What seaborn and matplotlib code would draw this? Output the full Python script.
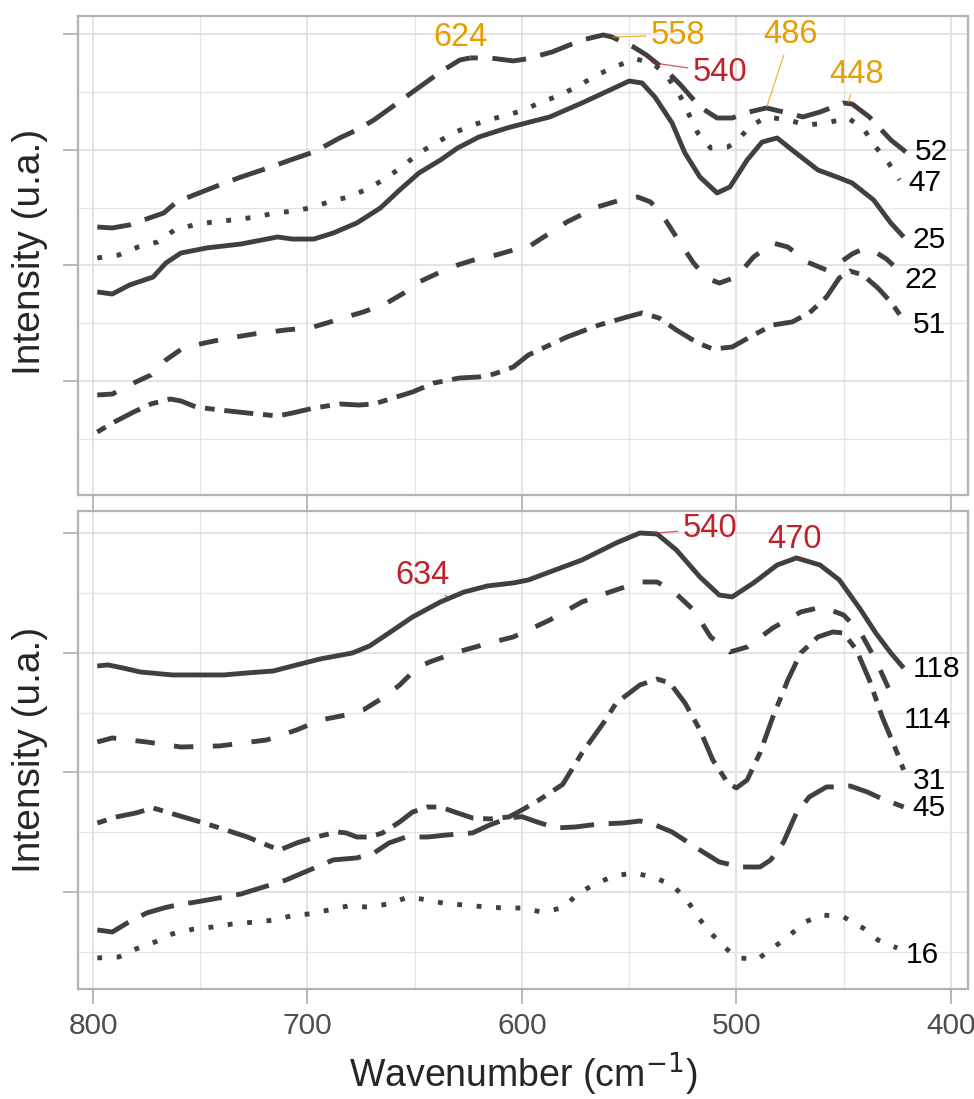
import numpy as np
import pandas as pd
import matplotlib
matplotlib.use("Agg")
import matplotlib.pyplot as plt
import seaborn as sns

# ---------------- data: top panel ----------------
wn_52 = [798, 791, 783, 767, 761, 753, 741, 731, 717, 708, 697, 691, 685, 677, 669, 658, 651, 638,
         629, 624, 615, 604, 598, 586, 572, 562, 558, 548, 542, 532, 526, 517, 509, 502, 494, 486,
         476, 469, 461, 450, 446, 438, 428, 421]
int_52 = [1.333, 1.325, 1.351, 1.455, 1.550, 1.610, 1.697, 1.766, 1.853, 1.913, 1.983, 2.043, 2.104,
          2.173, 2.260, 2.407, 2.502, 2.675, 2.779, 2.797, 2.797, 2.771, 2.788, 2.848, 2.952, 2.996,
          2.978, 2.892, 2.823, 2.675, 2.563, 2.372, 2.277, 2.277, 2.329, 2.364, 2.320, 2.286, 2.329,
          2.407, 2.398, 2.286, 2.087, 1.983]

wn_47 = [798, 788, 779, 770, 762, 753, 744, 735, 724, 715, 706, 699, 690, 681, 672, 664, 656, 648,
         640, 632, 623, 614, 605, 599, 592, 582, 573, 565, 557, 547, 539, 532, 526, 518, 512, 504,
         500, 494, 486, 476, 467, 458, 448, 441, 435, 429, 424]
int_47 = [1.065, 1.091, 1.160, 1.203, 1.307, 1.351, 1.377, 1.394, 1.420, 1.455, 1.472, 1.498, 1.550,
          1.593, 1.662, 1.749, 1.853, 1.974, 2.061, 2.147, 2.216, 2.268, 2.312, 2.346, 2.407, 2.476,
          2.563, 2.649, 2.719, 2.788, 2.753, 2.632, 2.459, 2.147, 2.017, 2.026, 2.069, 2.199, 2.286,
          2.260, 2.216, 2.234, 2.277, 2.190, 2.026, 1.887, 1.740]

wn_25 = [798, 791, 783, 772, 766, 759, 747, 731, 714, 707, 697, 688, 677, 666, 657, 648, 638, 630,
         620, 607, 598, 587, 572, 559, 550, 544, 538, 530, 524, 517, 509, 503, 495, 488, 481, 474,
         462, 452, 446, 436, 428, 422]
int_25 = [0.771, 0.753, 0.831, 0.900, 1.022, 1.108, 1.152, 1.186, 1.247, 1.229, 1.229, 1.281, 1.368,
          1.498, 1.654, 1.801, 1.913, 2.017, 2.113, 2.190, 2.234, 2.286, 2.407, 2.519, 2.597, 2.580,
          2.459, 2.234, 1.974, 1.766, 1.628, 1.680, 1.913, 2.069, 2.104, 2.000, 1.827, 1.758, 1.714,
          1.567, 1.368, 1.247]

wn_22 = [798, 791, 781, 773, 766, 758, 748, 739, 725, 710, 699, 691, 682, 674, 663, 655, 648, 639,
         630, 621, 612, 604, 597, 592, 579, 565, 554, 546, 540, 534, 528, 520, 514, 508, 500, 492,
         483, 476, 467, 458, 452, 446, 441, 436, 430, 426]
int_22 = [-0.121, -0.113, -0.017, 0.052, 0.182, 0.286, 0.329, 0.364, 0.407, 0.442, 0.459, 0.502,
          0.554, 0.597, 0.675, 0.762, 0.857, 0.935, 1.004, 1.056, 1.091, 1.134, 1.160, 1.221, 1.377,
          1.506, 1.567, 1.593, 1.550, 1.420, 1.247, 1.022, 0.892, 0.848, 0.900, 1.074, 1.195, 1.160,
          1.030, 0.961, 1.022, 1.100, 1.143, 1.126, 1.056, 0.987]

wn_51 = [798, 791, 781, 773, 764, 759, 752, 741, 728, 714, 707, 697, 685, 676, 669, 660, 651, 641,
         629, 620, 613, 604, 597, 590, 579, 564, 551, 544, 536, 528, 518, 511, 502, 492, 483, 474,
         466, 458, 452, 447, 441, 434, 428, 422]
int_51 = [-0.442, -0.364, -0.268, -0.199, -0.156, -0.173, -0.225, -0.251, -0.277, -0.303, -0.277,
          -0.234, -0.199, -0.208, -0.199, -0.147, -0.095, -0.017, 0.026, 0.035, 0.061, 0.121, 0.225,
          0.286, 0.381, 0.485, 0.554, 0.589, 0.545, 0.442, 0.329, 0.277, 0.294, 0.398, 0.485, 0.511,
          0.589, 0.727, 0.892, 0.952, 0.918, 0.805, 0.684, 0.528]

# ---------------- data: bottom panel ----------------
wn_118 = [798, 793, 786, 778, 763, 739, 728, 716, 705, 694, 679, 671, 662, 651, 638, 627, 616, 604,
          597, 587, 572, 556, 545, 537, 528, 517, 508, 502, 492, 481, 472, 461, 452, 442, 435, 428, 422]
int_118 = [1.891, 1.900, 1.874, 1.841, 1.816, 1.816, 1.833, 1.849, 1.900, 1.950, 2.000, 2.059, 2.167,
           2.301, 2.427, 2.510, 2.561, 2.586, 2.611, 2.678, 2.778, 2.921, 3.004, 2.996, 2.862, 2.636,
           2.485, 2.469, 2.586, 2.736, 2.795, 2.736, 2.611, 2.360, 2.167, 2.000, 1.874]

wn_114 = [798, 791, 775, 759, 741, 719, 705, 694, 682, 674, 665, 657, 649, 643, 630, 615, 604, 597,
          587, 572, 559, 545, 537, 530, 520, 512, 503, 495, 483, 470, 460, 450, 442, 435, 426]
int_114 = [1.255, 1.289, 1.255, 1.213, 1.222, 1.272, 1.356, 1.439, 1.481, 1.523, 1.623, 1.732, 1.874,
           1.925, 2.008, 2.084, 2.134, 2.192, 2.276, 2.427, 2.510, 2.594, 2.594, 2.527, 2.360, 2.134,
           2.008, 2.050, 2.209, 2.343, 2.385, 2.318, 2.167, 1.941, 1.582]

wn_31 = [798, 789, 780, 772, 761, 750, 741, 728, 719, 713, 705, 696, 686, 682, 677, 671, 665, 657,
         651, 644, 638, 630, 623, 615, 606, 600, 592, 581, 572, 562, 556, 545, 537, 531, 524, 517,
         511, 504, 500, 495, 489, 483, 476, 470, 462, 455, 450, 444, 438, 432, 425, 422]
int_31 = [0.577, 0.628, 0.661, 0.703, 0.644, 0.586, 0.536, 0.460, 0.393, 0.351, 0.410, 0.460, 0.502,
          0.494, 0.460, 0.460, 0.494, 0.586, 0.669, 0.711, 0.711, 0.661, 0.619, 0.611, 0.628, 0.686,
          0.770, 0.900, 1.163, 1.414, 1.582, 1.732, 1.782, 1.749, 1.582, 1.356, 1.105, 0.912, 0.870,
          0.937, 1.163, 1.464, 1.774, 2.000, 2.134, 2.176, 2.167, 2.025, 1.774, 1.464, 1.163, 1.021]

wn_45 = [798, 791, 784, 775, 767, 761, 752, 744, 731, 722, 710, 699, 688, 677, 669, 662, 654, 644,
         635, 623, 615, 606, 600, 593, 584, 575, 564, 553, 545, 539, 530, 517, 508, 498, 489, 484,
         478, 472, 466, 458, 453, 447, 439, 433, 422]
int_45 = [-0.318, -0.335, -0.259, -0.176, -0.134, -0.109, -0.084, -0.059, -0.017, 0.033, 0.100, 0.184,
          0.268, 0.285, 0.326, 0.410, 0.460, 0.460, 0.477, 0.494, 0.561, 0.620, 0.630, 0.586, 0.536,
          0.544, 0.569, 0.577, 0.594, 0.569, 0.502, 0.351, 0.251, 0.209, 0.209, 0.268, 0.418, 0.661,
          0.795, 0.879, 0.879, 0.887, 0.837, 0.787, 0.711]

wn_16 = [798, 788, 780, 771, 763, 753, 744, 735, 724, 715, 706, 699, 690, 681, 672, 662, 653, 644,
         635, 626, 617, 608, 600, 591, 581, 574, 566, 557, 548, 539, 530, 523, 518, 512, 505, 500,
         490, 483, 475, 468, 460, 450, 441, 434, 425]
int_16 = [-0.552, -0.544, -0.477, -0.418, -0.351, -0.310, -0.293, -0.268, -0.251, -0.234, -0.192,
          -0.184, -0.151, -0.117, -0.126, -0.100, -0.042, -0.067, -0.100, -0.109, -0.126, -0.134,
          -0.134, -0.167, -0.134, -0.017, 0.067, 0.134, 0.159, 0.126, 0.059, -0.067, -0.209, -0.343,
          -0.469, -0.552, -0.561, -0.469, -0.360, -0.251, -0.192, -0.209, -0.301, -0.402, -0.469]

top_series = {"52": (wn_52, int_52), "47": (wn_47, int_47), "25": (wn_25, int_25),
              "22": (wn_22, int_22), "51": (wn_51, int_51)}
bottom_series = {"118": (wn_118, int_118), "114": (wn_114, int_114), "31": (wn_31, int_31),
                 "45": (wn_45, int_45), "16": (wn_16, int_16)}

# peak annotations: (series, wavenumber, label, colour-name)
top_peaks = [("52", 624, "624", "orange"), ("52", 558, "558", "orange"), ("47", 540, "540", "red"),
             ("52", 486, "486", "orange"), ("52", 448, "448", "orange")]
bottom_peaks = [("118", 540, "540", "red"), ("118", 470, "470", "red"), ("118", 634, "634", "red")]

# ---------------- styles / layout ----------------
LINE_COL = "#404040"
LW = 3.5
dash_styles = {"52": (7, 3), "47": (1, 3), "25": "", "22": (4, 4), "51": (2, 2, 6, 2),
               "118": "", "114": (4, 4), "31": (2, 2, 6, 2), "45": (7, 3), "16": (1, 3)}
peak_colors = {"orange": "#E69F00", "red": "#C0222B"}
# text offsets (pixels) for peak labels
peak_offsets = {("52", 624): (-10, 20), ("52", 558): (66, 2), ("47", 540): (69, -10),
                ("52", 486): (24, 73), ("52", 448): (9, 29),
                ("118", 540): (59, 5), ("118", 470): (-6, 20), ("118", 634): (-26, 23)}
# end-label vertical offsets (pixels)
end_offsets = {"52": 0, "47": -3, "25": -3, "22": -13, "51": -5,
               "118": -1, "114": -17, "31": -11, "45": -1, "16": -7}

sns.set_theme(style="whitegrid")
plt.rcParams["font.family"] = ["Liberation Sans", "DejaVu Sans"]

W, H = 974, 1099
fig = plt.figure(figsize=(W / 100, H / 100), dpi=100)
L, R = 78, 968
ax_top = fig.add_axes([L / W, 1 - 495 / H, (R - L) / W, (495 - 16) / H])
ax_bot = fig.add_axes([L / W, 1 - 989 / H, (R - L) / W, (989 - 511) / H], sharex=ax_top)


def draw_panel(ax, series, peaks, ylim):
    frames = []
    for name, (w, v) in series.items():
        frames.append(pd.DataFrame({"wn": w, "I": v, "series": name}))
    df = pd.concat(frames, ignore_index=True)
    sns.lineplot(data=df, x="wn", y="I", style="series", units="series", estimator=None,
                 dashes={k: dash_styles[k] for k in series}, color=LINE_COL, linewidth=LW,
                 sort=False, legend=False, ax=ax)
    for line in ax.get_lines():
        line.set_solid_capstyle("butt")
        line.set_dash_capstyle("butt")
        line.set_solid_joinstyle("round")
        line.set_dash_joinstyle("round")
    ax.set_xlim(807, 392)
    ax.set_ylim(*ylim)
    ax.set_xticks([800, 700, 600, 500, 400])
    ax.set_xticks([750, 650, 550, 450], minor=True)
    ax.set_yticks([0, 1, 2, 3])
    ax.set_yticks([-0.5, 0.5, 1.5, 2.5], minor=True)
    ax.set_yticklabels([])
    ax.grid(True, which="major", color="#DEDEDE", linewidth=1.2)
    ax.grid(True, which="minor", color="#E4E4E4", linewidth=0.9)
    ax.set_axisbelow(True)
    ax.set_xlabel("")
    ax.set_ylabel("")
    for s in ax.spines.values():
        s.set_color("#B3B3B3")
        s.set_linewidth(1.6)
    ax.tick_params(axis="both", which="major", length=10.5, width=1.3, color="#B3B3B3",
                   direction="out", bottom=True, left=True, labelsize=21.5, labelcolor="#4D4D4D",
                   pad=6)
    ax.tick_params(axis="both", which="minor", length=0)
    # end labels
    for name, (w, v) in series.items():
        ax.annotate(name, xy=(w[-1], v[-1]), xytext=(9, end_offsets[name]),
                    textcoords="offset pixels", ha="left", va="center", fontsize=21.5,
                    color="black")
    # peak labels
    for sname, pw, lab, cname in peaks:
        w, v = series[sname]
        yv = np.interp(pw, np.asarray(w)[::-1], np.asarray(v)[::-1])
        col = peak_colors[cname]
        ax.annotate(lab, xy=(pw, yv), xytext=peak_offsets[(sname, pw)],
                    textcoords="offset pixels", ha="center", va="center", fontsize=23.5,
                    color=col,
                    arrowprops=dict(arrowstyle="-", color=col, lw=0.9, alpha=0.75,
                                    shrinkA=1, shrinkB=1))


draw_panel(ax_top, top_series, top_peaks, (-0.987, 3.160))
draw_panel(ax_bot, bottom_series, bottom_peaks, (-0.812, 3.188))
ax_top.tick_params(axis="x", labelbottom=False)

fig.text(30 / W, 1 - 252 / H, "Intensity (u.a.)", rotation=90, ha="center", va="center",
         fontsize=28)
fig.text(30 / W, 1 - 750 / H, "Intensity (u.a.)", rotation=90, ha="center", va="center",
         fontsize=28)
fig.text((L + R) / 2 / W, 1 - 1074 / H, "Wavenumber (cm$^{-1}$)", ha="center", va="center",
         fontsize=27)

fig.savefig("out.png", dpi=100)
